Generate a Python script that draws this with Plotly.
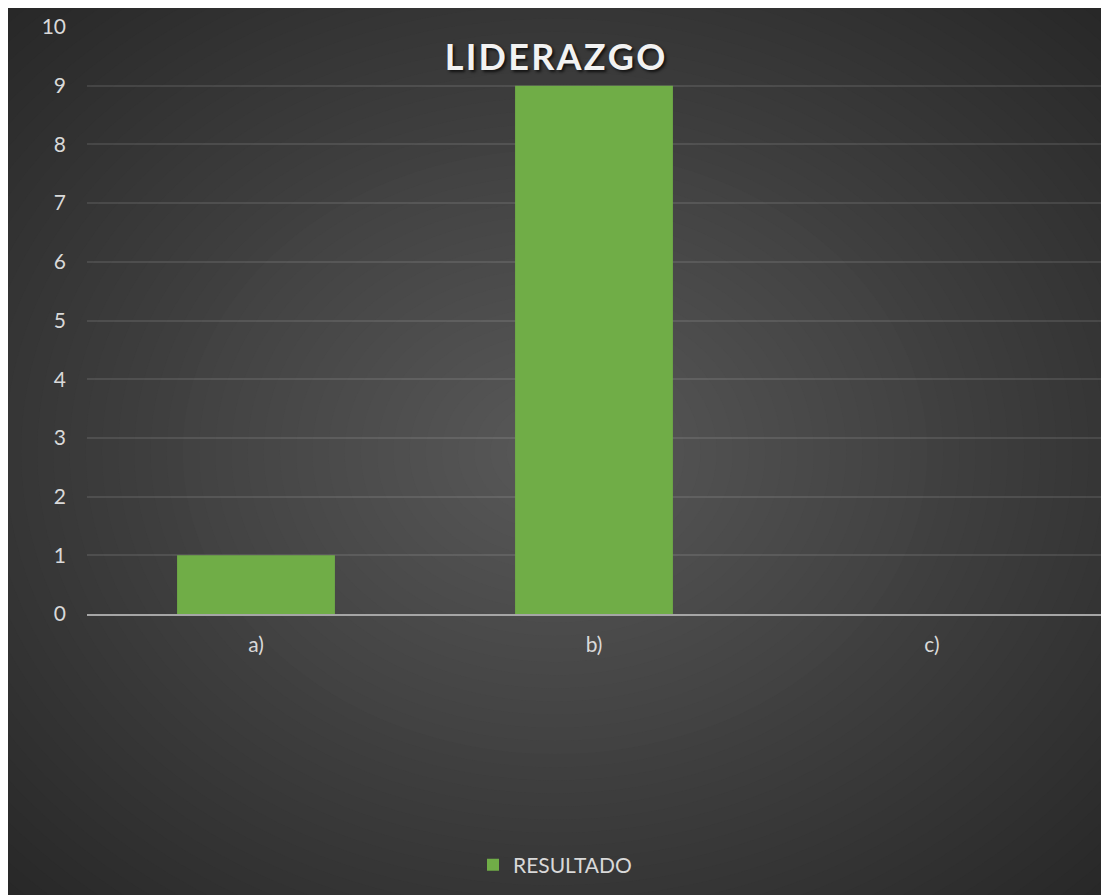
import plotly.graph_objects as go

categories = ["a)", "b)", "c)"]
resultado = [1, 9, 0]
y_ticks = [0, 1, 2, 3, 4, 5, 6, 7, 8, 9, 10]
title_text = "LIDERAZGO"
series_name = "RESULTADO"

W, H = 1093, 887
ML, MR, MT, MB = 79, 0, 19, 281
PW, PH = W - ML - MR, H - MT - MB

fig = go.Figure()
fig.add_trace(go.Bar(
    x=categories, y=resultado, name=series_name,
    marker=dict(color="#70AD47", line=dict(width=0)),
    width=0.467, showlegend=True,
))

# radial gradient background via nested opaque ellipses
cx, cy = 547, 444
A, B = 547 * 1.42, 444 * 1.42
N = 48
c_out, c_in = 40, 89
shapes = []
for k in range(N, 0, -1):
    t = k / N
    g = round(c_out + (c_in - c_out) * (1 - t))
    a, b = A * t, B * t
    if k == N:
        a, b = A * 2, B * 2
    x0 = (cx - a - ML) / PW
    x1 = (cx + a - ML) / PW
    y0 = (H - MB - (cy + b)) / PH
    y1 = (H - MB - (cy - b)) / PH
    shapes.append(dict(type="circle", xref="paper", yref="paper",
                       x0=x0, x1=x1, y0=y0, y1=y1,
                       fillcolor=f"rgb({g},{g},{g})", line=dict(width=0),
                       layer="below"))

spaced_title = "\u200a".join(title_text)

fig.update_layout(
    width=W, height=H,
    margin=dict(l=ML, r=MR, t=MT, b=MB, autoexpand=False),
    paper_bgcolor="rgb(40,40,40)",
    plot_bgcolor="rgba(0,0,0,0)",
    shapes=shapes,
    font=dict(family="Lato", size=21, color="#d9d9d9"),
    title=dict(text=spaced_title, xref="container", yref="container",
               x=547 / W, y=1 - 49 / H, xanchor="center", yanchor="middle",
               automargin=False,
               font=dict(family="Lato", size=36, color="#f2f2f2", weight="bold",
                         shadow="2px 2px 3px rgba(0,0,0,0.7)")),
    showlegend=True,
    legend=dict(orientation="h", xref="container", yref="container",
                x=547 / W, y=1 - 857 / H, xanchor="center", yanchor="middle",
                font=dict(family="Lato", size=21, color="#d9d9d9"),
                bgcolor="rgba(0,0,0,0)", itemwidth=30),
    xaxis=dict(showgrid=False, showline=True, linecolor="#a6a6a6", linewidth=2,
               ticks="", ticklabelstandoff=11, automargin=False,
               tickfont=dict(family="Lato", size=21, color="#d9d9d9")),
    yaxis=dict(range=[0, 10], tickvals=y_ticks, showgrid=True,
               gridcolor="rgba(255,255,255,0.10)", gridwidth=1.5,
               zeroline=False, showline=False, ticks="", ticklabelstandoff=20,
               automargin=False,
               tickfont=dict(family="Lato", size=21, color="#d9d9d9")),
)

fig.write_html(
    "out.html",
    post_script=(
        "document.documentElement.style.overflow='hidden';"
        "document.body.style.overflow='hidden';"
        "document.body.style.marginBottom='0px';"
        "document.body.style.marginRight='0px';"
    ),
)
